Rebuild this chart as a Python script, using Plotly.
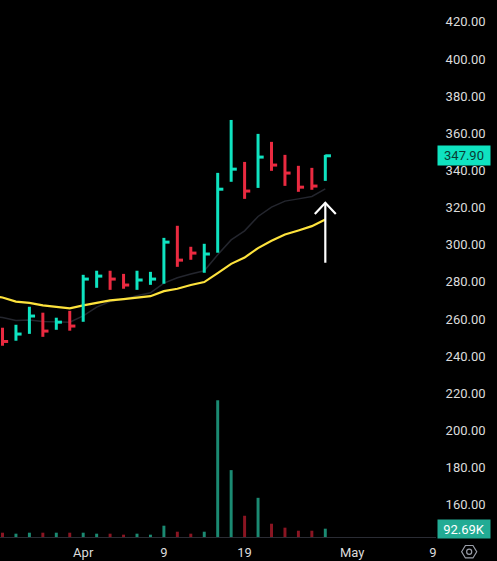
import plotly.graph_objects as go

idx = list(range(25))
high = [255.3, 256.9, 266.6, 263.4, 260.7, 264.4, 283.8, 286.0, 286.0, 284.3, 286.0, 285.4, 303.7,
        310.2, 298.9, 300.5, 338.7, 367.2, 344.6, 359.7, 355.4, 348.4, 342.5, 341.4, 348.4]
low = [245.6, 248.3, 252.0, 250.4, 254.2, 253.7, 258.5, 276.8, 275.7, 276.3, 275.7, 278.4, 279.0,
       288.1, 291.9, 284.9, 295.7, 333.9, 324.7, 330.6, 339.8, 331.7, 328.5, 329.6, 334.4]
close = [247.9, 251.9, 261.6, 253.5, 258.3, 256.2, 281.5, 283.1, 281.5, 278.3, 281.0, 281.5, 301.4,
         291.7, 295.5, 295.0, 329.9, 340.7, 328.9, 347.2, 342.9, 338.6, 331.0, 331.6, 347.9]
up = [0, 1, 1, 0, 1, 0, 1, 1, 0, 0, 1, 1, 1, 0, 0, 1, 1, 1, 0, 1, 0, 0, 0, 0, 1]
volume = [48, 37, 48, 48, 48, 48, 48, 37, 37, 26, 37, 26, 126,
          59, 37, 59, 1525, 746, 237, 437, 148, 104, 70, 70, 92.69]
# the averages start one bar before the left edge, so they run off the chart
ma_idx = [-1] + idx
ma_yellow = [272.4, 271.6, 269.4, 268.7, 267.3, 266.6, 265.7, 267.3, 268.7, 270.0, 270.7, 271.6, 272.3, 275.0,
             276.3, 278.3, 279.9, 284.7, 289.7, 293.1, 298.2, 302.1, 305.5, 307.7, 310.0, 313.6]
ma_dark = [261.7, 260.8, 259.2, 259.4, 258.7, 258.5, 258.3, 261.7, 266.4, 269.4, 270.7, 272.5, 274.1, 279.3,
           282.2, 284.2, 286.0, 294.6, 302.6, 307.5, 315.2, 320.3, 323.5, 324.7, 326.0, 330.1]

price_ticks = [160, 180, 200, 220, 240, 260, 280, 300, 320, 340, 360, 380, 400, 420]
date_ticks = [6, 12, 18, 26, 32]
date_labels = ["Apr", "9", "19", "May", "9"]
arrow_x = [24, 24, None, 23.22, 24, 24.78]
arrow_y = [290.3, 322.6, None, 316.6, 322.6, 316.6]

TEAL = "#0fe3c0"
RED = "#ea2a40"
TEXT = "#dcdcdc"
FONT = "Roboto"


def hlc_trace(flag, color):
    # high-low stem plus a close tick on the right only
    sel = [i for i in idx if up[i] == flag]
    return go.Scatter(
        x=sel,
        y=[close[i] for i in sel],
        mode="markers",
        marker=dict(size=1, opacity=0),
        error_y=dict(type="data", symmetric=False,
                     array=[high[i] - close[i] for i in sel],
                     arrayminus=[close[i] - low[i] for i in sel],
                     color=color, thickness=3, width=0),
        error_x=dict(type="data", symmetric=False,
                     array=[0.42] * len(sel), arrayminus=[0] * len(sel),
                     color=color, thickness=3, width=0),
    )


fig = go.Figure()
fig.add_trace(go.Bar(x=idx, y=volume, yaxis="y2", width=0.22,
                     marker=dict(color=["#1b8a72" if u else "#8a1522" for u in up], line_width=0)))
fig.add_trace(go.Scatter(x=ma_idx, y=ma_dark, mode="lines", line=dict(color="#24262e", width=1.5)))
fig.add_trace(go.Scatter(x=ma_idx, y=ma_yellow, mode="lines", line=dict(color="#fde23c", width=2.2)))
fig.add_trace(hlc_trace(1, TEAL))
fig.add_trace(hlc_trace(0, RED))
fig.add_trace(go.Scatter(x=arrow_x, y=arrow_y, mode="lines", line=dict(color="#ffffff", width=2.2)))

fig.update_layout(
    width=497, height=561,
    margin=dict(l=0, r=61, t=0, b=24),
    paper_bgcolor="#000000", plot_bgcolor="#000000",
    showlegend=False,
    font=dict(family=FONT, size=13, color=TEXT),
    xaxis=dict(range=[-0.186, 32.23], tickvals=date_ticks, ticktext=date_labels,
               showgrid=False, zeroline=False, showline=True, linecolor="#2a2c34", linewidth=1,
               ticks="outside", ticklen=3, tickcolor="#000000"),
    yaxis=dict(range=[142.6, 431.8], side="right", tickvals=price_ticks, tickformat=".2f",
               showgrid=False, zeroline=False, ticks="outside", ticklen=6, tickcolor="#000000"),
    yaxis2=dict(range=[0, 5990], overlaying="y", visible=False),
    annotations=[
        dict(xref="paper", x=1, xanchor="left", xshift=1, yref="y", y=close[-1], yanchor="middle",
             text="347.90", showarrow=False, bgcolor=TEAL, width=50, height=17,
             font=dict(color="#083b34", size=13, family=FONT)),
        dict(xref="paper", x=1, xanchor="left", xshift=1, yref="y2", y=volume[-1], yanchor="middle",
             text="92.69K", showarrow=False, bgcolor="#22ab94", width=50, height=16,
             font=dict(color="#ffffff", size=13, family=FONT)),
    ],
)
# settings icon in the corner, placed below the axis in paper units
cx, cy, w, h = 1.0761, -0.0274, 0.0173, 0.0116
fig.add_shape(type="path", xref="paper", yref="paper",
              path=f"M {cx-w} {cy} L {cx-w/2} {cy+h} L {cx+w/2} {cy+h} L {cx+w} {cy} L {cx+w/2} {cy-h} L {cx-w/2} {cy-h} Z",
              line=dict(color="#9a9ea8", width=1.2))
fig.add_shape(type="circle", xref="paper", yref="paper",
              x0=cx-0.0058, x1=cx+0.0058, y0=cy-0.0048, y1=cy+0.0048,
              line=dict(color="#9a9ea8", width=1.2))

# page margin would push the 497x561 figure out of the window
fig.write_html("out.html", config=dict(displayModeBar=False),
               post_script="document.body.style.margin='0';")
